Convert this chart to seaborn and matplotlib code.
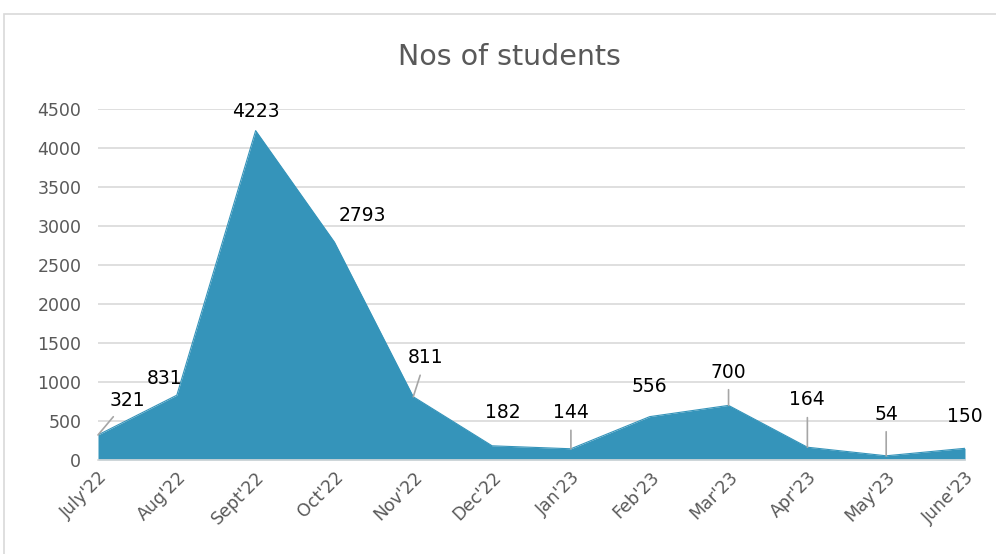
import matplotlib
matplotlib.use("Agg")
import matplotlib.pyplot as plt
import seaborn as sns
import pandas as pd
from matplotlib.patches import Rectangle

months = ["July'22", "Aug'22", "Sept'22", "Oct'22", "Nov'22", "Dec'22",
          "Jan'23", "Feb'23", "Mar'23", "Apr'23", "May'23", "June'23"]
students = [321, 831, 4223, 2793, 811, 182, 144, 556, 700, 164, 54, 150]
y_ticks = [0, 500, 1000, 1500, 2000, 2500, 3000, 3500, 4000, 4500]

# label offsets (points) and whether a leader line is drawn
label_dx = [21, -9, 0, 20, 9, 8, 0, 0, 0, 0, 0, 0]
label_dy = [25, 12, 14, 19, 28, 24, 26, 22, 24, 34, 30, 23]
leader = [True, False, False, False, True, False, True, False, True, True, True, False]

sns.set_theme(style="white")
plt.rcParams['font.family'] = ['DejaVu Sans']

df = pd.DataFrame({"idx": range(len(months)), "students": students})

fig = plt.figure(figsize=(9.96, 5.54), dpi=100)
ax = fig.add_axes([98/996, 1-460/554, (965-98)/996, (460-109)/554])

color = "#3594BA"
ax.fill_between(df["idx"], df["students"], 0, color=color, linewidth=0, zorder=3)
sns.lineplot(data=df, x="idx", y="students", color=color, linewidth=0.8, ax=ax, zorder=3)

ax.set_xlim(0, 11)
ax.set_ylim(0, 4500)
ax.set_yticks(y_ticks)
ax.set_yticklabels([str(t) for t in y_ticks], color="#595959", fontsize=12.5)
ax.set_xticks(range(len(months)))
ax.set_xticklabels(months, rotation=45, ha="right", rotation_mode="anchor",
                   color="#595959", fontsize=12.5)
ax.tick_params(axis="both", length=0, pad=6)
ax.tick_params(axis="y", pad=12)
ax.grid(axis="y", color="#D9D9D9", linewidth=1.2, zorder=0)
for s in ["top", "right", "left"]:
    ax.spines[s].set_visible(False)
ax.spines["bottom"].set_color("#D9D9D9")
ax.spines["bottom"].set_linewidth(1.2)
ax.spines["bottom"].set_zorder(4)
ax.set_xlabel("")
ax.set_ylabel("")

for i, v in enumerate(students):
    kw = {}
    if leader[i]:
        kw["arrowprops"] = dict(arrowstyle="-", color="#A6A6A6", lw=1.2,
                                shrinkA=3.5, shrinkB=0)
    ax.annotate(str(v), xy=(i, v), xytext=(label_dx[i], label_dy[i]),
                textcoords="offset points", ha="center", va="center",
                fontsize=13.5, color="black", zorder=6, annotation_clip=False, **kw)

fig.text(0.511, 1-57/554, "Nos of students", ha="center", va="center",
         fontsize=20.5, color="#595959")

fig.patches.append(Rectangle((4/996, -0.02), 1.1, 1-14/554+0.02, transform=fig.transFigure,
                             fill=False, edgecolor="#D9D9D9", linewidth=1.2))

fig.savefig("out.png", dpi=100)
